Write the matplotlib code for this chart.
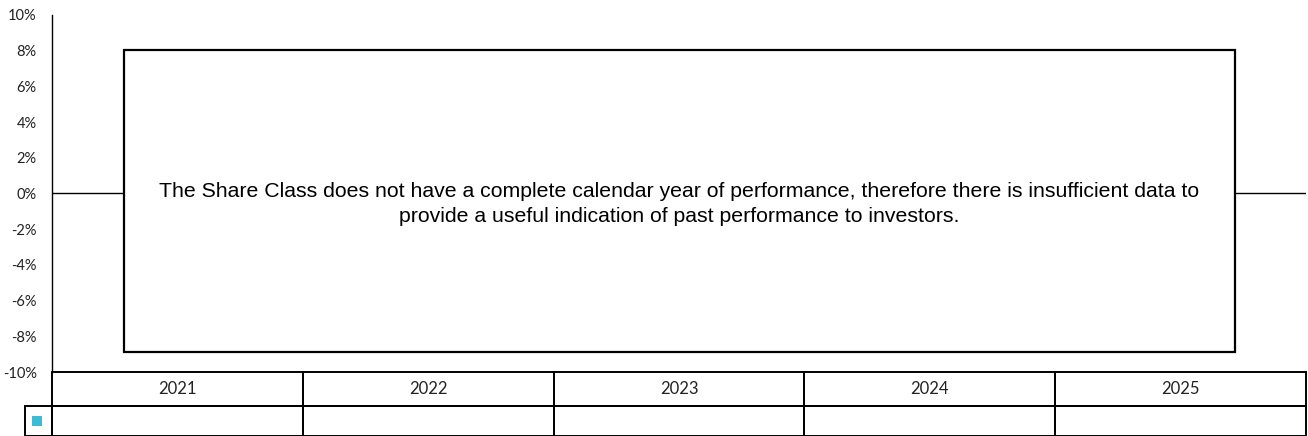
import matplotlib
matplotlib.use("Agg")
from matplotlib import pyplot as plt
from matplotlib.patches import Rectangle

years = ["2021", "2022", "2023", "2024", "2025"]
fund_returns = [None, None, None, None, None]  # no full calendar year yet
y_ticks = [-10, -8, -6, -4, -2, 0, 2, 4, 6, 8, 10]
message = ("The Share Class does not have a complete calendar year of performance, therefore there is insufficient data to\n"
           "provide a useful indication of past performance to investors.")
series_color = "#3dbad6"

W, H = 1308, 436
fig = plt.figure(figsize=(W / 100, H / 100), dpi=100)
ax = fig.add_axes([52 / W, 1 - 372 / H, 1254 / W, 357 / H])

ax.set_xlim(0, len(years))
ax.set_ylim(-10, 10)
ax.set_yticks(y_ticks)
ax.set_yticklabels([f"{t}%" for t in y_ticks], family="Lato", fontsize=10.5, color="#222222")
ax.tick_params(axis="y", length=0, pad=11)
ax.set_xticks([])
for s in ["top", "right", "bottom"]:
    ax.spines[s].set_visible(False)
ax.spines["left"].set_linewidth(1)

ax.axhline(0, color="black", lw=1, zorder=1)

# message box
box = Rectangle((72 / 1254, (372 - 352) / 357), (1235 - 124) / 1254, (352 - 50) / 357,
                transform=ax.transAxes, facecolor="white", edgecolor="black", lw=1.6, zorder=3)
ax.add_patch(box)
ax.text(0.5, (372 - 204) / 357, message, transform=ax.transAxes, ha="center", va="center",
        family="Liberation Sans", fontsize=15.3, linespacing=1.42, zorder=4)

# table under the axis
head_h = 34 / 357
row_h = 30 / 357
for i, yr in enumerate(years):
    x0 = i / len(years)
    ax.add_patch(Rectangle((x0, -head_h), 1 / len(years), head_h, transform=ax.transAxes,
                           facecolor="none", edgecolor="black", lw=1.4, clip_on=False))
    ax.add_patch(Rectangle((x0, -head_h - row_h), 1 / len(years), row_h, transform=ax.transAxes,
                           facecolor="none", edgecolor="black", lw=1.4, clip_on=False))
    ax.text((i + 0.5) / len(years), -head_h / 2, yr, transform=ax.transAxes,
            ha="center", va="center", family="Lato", fontsize=12, color="#222222")
ax.add_patch(Rectangle((-27 / 1254, -head_h - row_h), 27 / 1254, row_h, transform=ax.transAxes,
                       facecolor="none", edgecolor="black", lw=1.4, clip_on=False))
ax.add_patch(Rectangle((-20 / 1254, -head_h - row_h / 2 - 5 / 357), 10 / 1254, 10 / 357,
                       transform=ax.transAxes, facecolor=series_color, edgecolor="none",
                       clip_on=False))

fig.savefig("out.png", dpi=100)
